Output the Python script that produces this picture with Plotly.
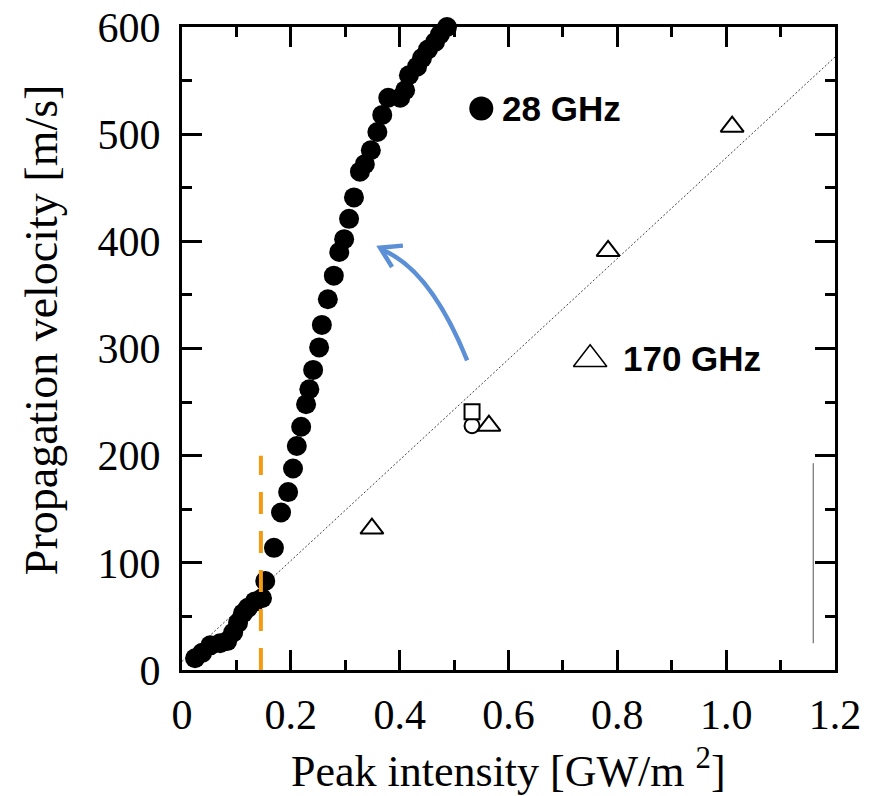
import plotly.graph_objects as go

# 28 GHz (filled circles)
x28 = [0.024, 0.037, 0.052, 0.070, 0.083, 0.094, 0.103, 0.112, 0.121, 0.134, 0.147,
       0.153, 0.169, 0.182, 0.195, 0.204, 0.211, 0.219, 0.228, 0.234, 0.241, 0.252,
       0.257, 0.268, 0.279, 0.289, 0.298, 0.307, 0.316, 0.327, 0.336, 0.347, 0.359,
       0.368, 0.379, 0.401, 0.410, 0.417, 0.432, 0.441, 0.452, 0.465, 0.474, 0.487]
y28 = [11, 16, 23, 25, 27, 35, 44, 53, 58, 64, 67,
       83, 114, 147, 166, 188, 209, 227, 248, 262, 280, 301,
       322, 346, 368, 390, 402, 421, 441, 465, 472, 485, 502,
       518, 534, 534, 541, 555, 563, 571, 579, 586, 593, 600]

# 170 GHz (open triangles)
x170 = [0.349, 0.564, 0.783, 1.011]
y170 = [132, 228, 391, 507]

# other open symbols
xsq, ysq = [0.533], [241]
xci, yci = [0.533], [228]

# dotted fit line
fit_x = [0.0, 1.2]
fit_y = [8, 572]

# orange threshold line
thr_x = [0.145, 0.145]
thr_y = [0, 200]

# thin vertical line at right
vl_x = [1.16, 1.16]
vl_y = [25, 193]

# blue curved arrow (start, control, end) and arrowhead arms
arc_p0 = (0.524, 289)
arc_c = (0.456, 374)
arc_p2 = (0.368, 392)
head_tip = (0.364, 394)
head_a1 = (0.406, 396)
head_a2 = (0.386, 376)

# in-plot legend items
leg28 = (0.550, 524)
leg170 = (0.750, 290)
lab28 = (0.585, 524)
lab170 = (0.806, 291)

xtickvals = [0, 0.2, 0.4, 0.6, 0.8, 1.0, 1.2]
xticktext = ["0", "0.2", "0.4", "0.6", "0.8", "1.0", "1.2"]
ytickvals = [0, 100, 200, 300, 400, 500, 600]

fig = go.Figure()

fig.add_trace(go.Scatter(x=fit_x, y=fit_y, mode="lines",
                         line=dict(color="#444444", width=1, dash="2px,2px"),
                         hoverinfo="skip"))
fig.add_trace(go.Scatter(x=vl_x, y=vl_y, mode="lines",
                         line=dict(color="#555555", width=1), hoverinfo="skip"))
fig.add_trace(go.Scatter(x=x28, y=y28, mode="markers", cliponaxis=False,
                         marker=dict(symbol="circle", size=20, color="black")))
fig.add_trace(go.Scatter(x=thr_x, y=thr_y, mode="lines",
                         line=dict(color="#F39C12", width=4, dash="22px,17px"),
                         hoverinfo="skip"))
fig.add_trace(go.Scatter(x=x170, y=y170, mode="markers",
                         marker=dict(symbol="triangle-up-open", size=20,
                                     color="black", line=dict(width=2))))
fig.add_trace(go.Scatter(x=xci, y=yci, mode="markers",
                         marker=dict(symbol="circle-open", size=15,
                                     color="black", line=dict(width=2))))
fig.add_trace(go.Scatter(x=xsq, y=ysq, mode="markers",
                         marker=dict(symbol="square", size=15, color="white",
                                     line=dict(width=2, color="black"))))
# legend markers
fig.add_trace(go.Scatter(x=[leg28[0]], y=[leg28[1]], mode="markers",
                         marker=dict(symbol="circle", size=24, color="black")))
fig.add_trace(go.Scatter(x=[leg170[0]], y=[leg170[1]], mode="markers",
                         marker=dict(symbol="triangle-up-open", size=29,
                                     color="black", line=dict(width=1.5))))

fig.add_annotation(x=lab28[0], y=lab28[1], text="<b>28 GHz</b>", showarrow=False,
                   xanchor="left", yanchor="middle",
                   font=dict(family="Liberation Sans", size=35, color="black"))
fig.add_annotation(x=lab170[0], y=lab170[1], text="<b>170 GHz</b>", showarrow=False,
                   xanchor="left", yanchor="middle",
                   font=dict(family="Liberation Sans", size=35, color="black"))

# axis titles
fig.add_annotation(xref="paper", yref="paper", x=0.5, y=-0.153,
                   text="Peak intensity [GW/m <sup>2</sup>]", showarrow=False,
                   xanchor="center", yanchor="middle",
                   font=dict(family="Liberation Serif", size=44, color="black"))
fig.add_annotation(xref="paper", yref="paper", x=-0.216, y=0.53,
                   text="Propagation velocity [m/s]", showarrow=False, textangle=-90,
                   xanchor="center", yanchor="middle",
                   font=dict(family="Liberation Serif", size=46, color="black"))

blue = "#5B8FD6"
fig.add_shape(type="path", xref="x", yref="y",
              path=f"M {arc_p0[0]},{arc_p0[1]} Q {arc_c[0]},{arc_c[1]} {arc_p2[0]},{arc_p2[1]}",
              line=dict(color=blue, width=4.5))
fig.add_shape(type="path", xref="x", yref="y",
              path=f"M {head_a1[0]},{head_a1[1]} L {head_tip[0]},{head_tip[1]} L {head_a2[0]},{head_a2[1]}",
              line=dict(color=blue, width=4.5))

axis_common = dict(showline=True, linecolor="black", linewidth=3, mirror="ticks",
                   ticks="inside", ticklen=20, tickwidth=2.5, tickcolor="black",
                   showgrid=False, zeroline=False, automargin=False,
                   tickfont=dict(family="Liberation Serif", size=42, color="black"))

fig.update_xaxes(range=[0, 1.2], tickvals=xtickvals, ticktext=xticktext,
                 minor=dict(ticks="inside", ticklen=10, tickwidth=2.5, tickcolor="black", dtick=0.1, tick0=0),
                 ticklabelstandoff=6, **axis_common)
fig.update_yaxes(range=[0, 600], tickvals=ytickvals,
                 minor=dict(ticks="inside", ticklen=10, tickwidth=2.5, tickcolor="black", dtick=50, tick0=0),
                 ticklabelstandoff=10, **axis_common)

fig.update_layout(width=874, height=796, margin=dict(l=182, r=39, t=27, b=126),
                  plot_bgcolor="white", paper_bgcolor="white", showlegend=False)

fig.write_html("out.html")
